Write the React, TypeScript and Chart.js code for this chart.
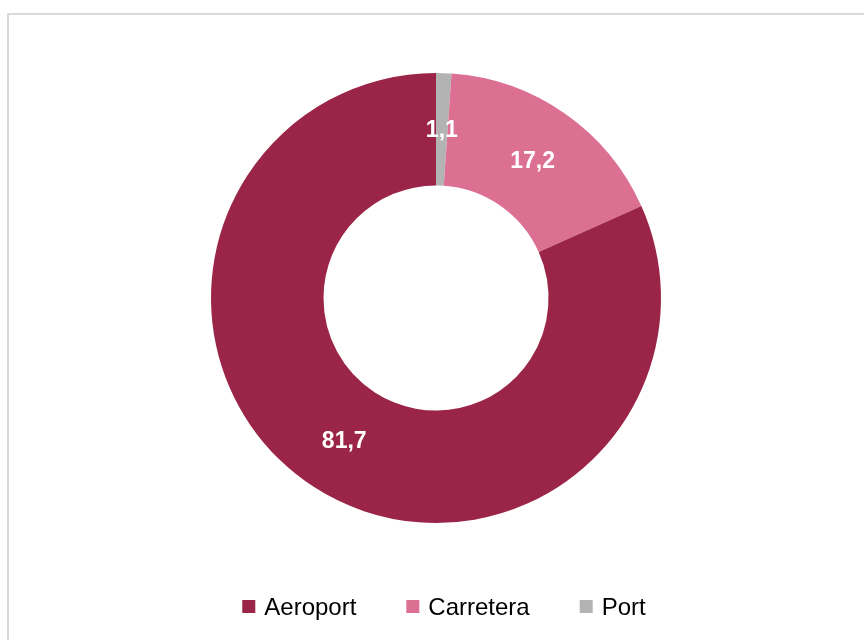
import React, { useEffect, useRef } from "react";
import { Chart, registerables } from "chart.js";

Chart.register(...registerables);

// Drawing order is clockwise from 12 o'clock: Port, Carretera, Aeroport
const categories = ["Port", "Carretera", "Aeroport"];
const values = [1.1, 17.2, 81.7];
const colors = ["#B3B3B3", "#DC7093", "#9B2548"];
// Legend order as shown in the picture
const legendOrder = ["Aeroport", "Carretera", "Port"];

const FONT = '"Liberation Sans", Arial, sans-serif';

const valueLabels = {
  id: "valueLabels",
  afterDatasetsDraw(chart: any) {
    const ctx = chart.ctx;
    const meta = chart.getDatasetMeta(0);
    ctx.save();
    ctx.fillStyle = "#FFFFFF";
    ctx.font = `bold 23px ${FONT}`;
    ctx.textAlign = "center";
    ctx.textBaseline = "alphabetic";
    meta.data.forEach((arc: any, i: number) => {
      const p = arc.tooltipPosition();
      const v = chart.data.datasets[0].data[i] as number;
      ctx.fillText(v.toFixed(1).replace(".", ","), p.x, p.y + 8);
    });
    ctx.restore();
  },
};

const customLegend = {
  id: "customLegend",
  afterDraw(chart: any) {
    const ctx = chart.ctx;
    ctx.save();
    ctx.font = `24px ${FONT}`;
    ctx.textBaseline = "alphabetic";
    ctx.textAlign = "left";
    const box = 13;
    const gap = 9;
    const itemGap = 50;
    const labels: string[] = chart.data.labels;
    const bg: string[] = chart.data.datasets[0].backgroundColor;
    const items = legendOrder.map((name) => {
      const idx = labels.indexOf(name);
      return { name, color: bg[idx], w: ctx.measureText(name).width };
    });
    const total =
      items.reduce((s, it) => s + box + gap + it.w, 0) + itemGap * (items.length - 1);
    const cx = (chart.chartArea.left + chart.chartArea.right) / 2 + 8;
    let x = cx - total / 2;
    const boxTop = 600;
    const baseline = 615;
    items.forEach((it) => {
      ctx.fillStyle = it.color;
      ctx.fillRect(x, boxTop, box, box);
      ctx.fillStyle = "#000000";
      ctx.fillText(it.name, x + box + gap, baseline);
      x += box + gap + it.w + itemGap;
    });
    ctx.restore();
  },
};

export default function App() {
  const ref = useRef<HTMLCanvasElement | null>(null);
  useEffect(() => {
    if (!ref.current) return;
    const chart = new Chart(ref.current, {
      type: "doughnut",
      data: {
        labels: categories,
        datasets: [
          {
            data: values,
            backgroundColor: colors,
            borderWidth: 0,
          },
        ],
      },
      options: {
        animation: false,
        responsive: false,
        cutout: "50%",
        layout: { padding: { left: 211, right: 203, top: 73, bottom: 117 } },
        plugins: {
          legend: { display: false },
          tooltip: { enabled: false },
        },
      },
      plugins: [valueLabels, customLegend],
    });
    return () => chart.destroy();
  }, []);

  return (
    <div
      style={{
        position: "fixed",
        left: 0,
        top: 0,
        width: 864,
        height: 640,
        overflow: "hidden",
        background: "#FFFFFF",
      }}
    >
      <div
        style={{
          position: "absolute",
          left: 7,
          top: 13,
          width: 900,
          height: 700,
          border: "2px solid #D9D9D9",
          boxSizing: "border-box",
        }}
      />
      <canvas
        ref={ref}
        width={864}
        height={640}
        style={{ position: "absolute", left: 0, top: 0, width: 864, height: 640 }}
      />
    </div>
  );
}
